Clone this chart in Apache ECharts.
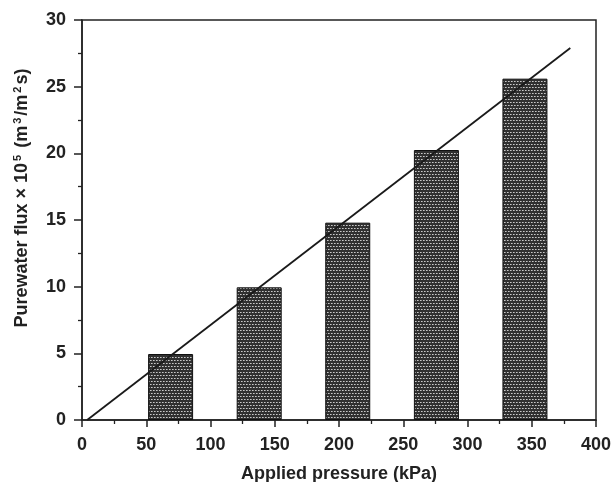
<!DOCTYPE html>
<html><head><meta charset="utf-8">
<script src="https://cdn.jsdelivr.net/npm/echarts@6/dist/echarts.min.js"></script>
<style>html,body{margin:0;padding:0;background:#fff}#c{width:612px;height:482px}</style>
</head><body><div id="c"></div>
<script>
// Data
const pressures = [68.95, 137.9, 206.8, 275.8, 344.7];
const fluxValues = [4.95, 9.95, 14.8, 20.25, 25.6];
const fitLineX = [4, 380];
const fitLineY = [0, 27.9];
const xTicks = [0, 50, 100, 150, 200, 250, 300, 350, 400];
const yTicks = [0, 5, 10, 15, 20, 25, 30];

// pattern for bars
const pc = document.createElement('canvas');
pc.width = 6; pc.height = 6;
const g = pc.getContext('2d');
g.fillStyle = '#303030'; g.fillRect(0,0,6,6);
g.fillStyle = '#c8c8c8';
g.fillRect(0,0,1,1); g.fillRect(3,0,1,1);
g.fillRect(1,3,1,1); g.fillRect(4,3,1,1);
g.fillStyle = '#8e8e8e';
g.fillRect(2,3,1,1); g.fillRect(5,3,1,1);
g.fillRect(1,0,1,1); g.fillRect(4,0,1,1);

const chart = echarts.init(document.getElementById('c'), null, {renderer:'canvas'});
const font = 'Liberation Sans, Arial, sans-serif';
chart.setOption({
  animation:false,
  grid:{left:82, right:16, top:20, bottom:62, outerBoundsMode:'none', containLabel:false,
        show:true, borderColor:'#222', borderWidth:1.5, backgroundColor:'transparent'},
  xAxis:{type:'value', min:xTicks[0], max:xTicks[xTicks.length-1], interval:50,
    axisLine:{show:true, lineStyle:{color:'#222', width:1.5}},
    axisTick:{show:true, inside:false, length:7, lineStyle:{color:'#222', width:1.5}},
    minorTick:{show:true, splitNumber:2, length:4, lineStyle:{color:'#222', width:1.3}},
    splitLine:{show:false},
    axisLabel:{color:'#222', fontFamily:font, fontWeight:'bold', fontSize:18, margin:16},
    name:'Applied pressure (kPa)', nameLocation:'middle', nameGap:45,
    nameTextStyle:{color:'#222', fontFamily:font, fontWeight:'bold', fontSize:18}
  },
  yAxis:{type:'value', min:yTicks[0], max:yTicks[yTicks.length-1], interval:5,
    axisLine:{show:true, lineStyle:{color:'#222', width:1.5}},
    axisTick:{show:true, inside:false, length:8, lineStyle:{color:'#222', width:1.5}},
    minorTick:{show:true, splitNumber:2, length:4, lineStyle:{color:'#222', width:1.3}},
    splitLine:{show:false},
    axisLabel:{color:'#222', fontFamily:font, fontWeight:'bold', fontSize:18, margin:16},
    name:'{b|Purewater flux × 10}{s|5}{b| (m}{s|3}{b|/m}{s|2}{b|s)}', nameLocation:'middle', nameGap:49,
    nameTextStyle:{color:'#222', fontFamily:font, fontWeight:'bold', fontSize:18, padding:[0,0,0,44],
      rich:{b:{fontFamily:font, fontWeight:'bold', fontSize:18, color:'#222'},
            s:{fontFamily:font, fontWeight:'bold', fontSize:11, color:'#222', verticalAlign:'top', padding:[0,2,10,2]}}}
  },
  series:[
    {type:'bar', data:pressures.map((p,i)=>[p, fluxValues[i]]), barWidth:45,
     itemStyle:{color:{image:pc, repeat:'repeat'}, borderColor:'#111', borderWidth:1}},
    {type:'line', data:fitLineX.map((x,i)=>[x, fitLineY[i]]), symbol:'none',
     lineStyle:{color:'#1a1a1a', width:1.8}}
  ]
});
</script></body></html>
